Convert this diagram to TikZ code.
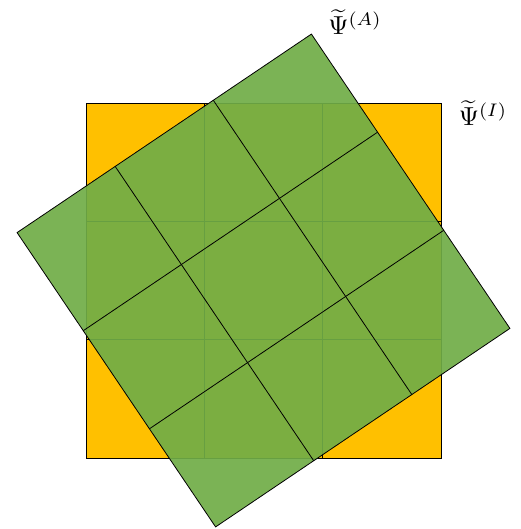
\documentclass[tikz,border=0pt]{standalone}
\usepackage{amsmath}
\definecolor{sqorange}{RGB}{255,192,0}
\definecolor{sqgreen}{RGB}{112,173,71}
\tikzset{
  gridline/.style={black, line width=0.8pt},
  lbl/.style={inner sep=0pt, scale=2.6}
}
\begin{document}
\begin{tikzpicture}[x=1pt,y=1pt]
\useasboundingbox (0,0) rectangle (520,529);
% orange square with 3x3 grid
\begin{scope}[shift={(263.5,248.5)}]
  \fill[sqorange] (-177.5,-177.5) rectangle (177.5,177.5);
  \draw[gridline] (-177.5,-177.5) rectangle (177.5,177.5);
  \foreach \t in {-59.17,59.17} {
    \draw[gridline] (\t,-177.5) -- (\t,177.5);
    \draw[gridline] (-177.5,\t) -- (177.5,\t);
  }
\end{scope}
% green rotated square with 3x3 grid
\begin{scope}[shift={(263.5,248.5)}, rotate=34]
  \fill[sqgreen, fill opacity=0.92] (-177.5,-177.5) rectangle (177.5,177.5);
  \draw[gridline] (-177.5,-177.5) rectangle (177.5,177.5);
  \foreach \t in {-59.17,59.17} {
    \draw[gridline] (\t,-177.5) -- (\t,177.5);
    \draw[gridline] (-177.5,\t) -- (177.5,\t);
  }
\end{scope}
\node[lbl] (psiA) at (355,507) {$\widetilde{\Psi}^{(A)}$};
\node[lbl] (psiI) at (483,416) {$\widetilde{\Psi}^{(I)}$};
\end{tikzpicture}
\end{document}
